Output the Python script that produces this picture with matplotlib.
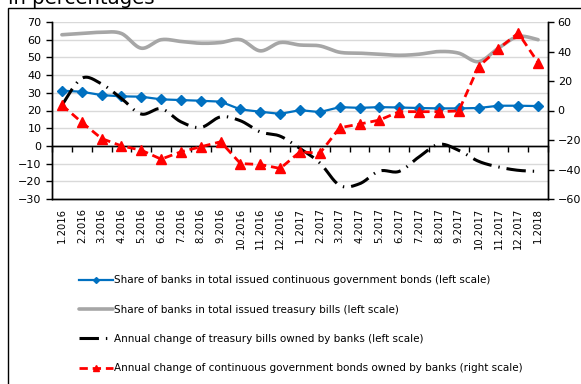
import numpy as np
import matplotlib
matplotlib.use('Agg')
import matplotlib.pyplot as plt
from matplotlib.patches import Rectangle

months = ['1.2016', '2.2016', '3.2016', '4.2016', '5.2016', '6.2016', '7.2016', '8.2016',
          '9.2016', '10.2016', '11.2016', '12.2016', '1.2017', '2.2017', '3.2017', '4.2017',
          '5.2017', '6.2017', '7.2017', '8.2017', '9.2017', '10.2017', '11.2017', '12.2017',
          '1.2018']

# left scale
share_bonds = [31.2, 30.6, 28.7, 28.0, 27.8, 26.3, 25.9, 25.5, 25.0, 20.6, 19.3, 18.1, 20.2,
               19.1, 21.9, 21.5, 21.9, 21.7, 21.4, 21.2, 21.2, 21.4, 22.7, 22.7, 22.5]
share_bills = [62.8, 63.5, 64.2, 63.5, 55.2, 60.0, 59.0, 58.0, 58.4, 60.0, 53.7, 58.4, 57.0,
               56.5, 52.9, 52.4, 51.8, 51.2, 51.8, 53.3, 52.4, 47.6, 55.2, 61.8, 60.0]
change_bills = [23.0, 38.2, 35.0, 26.8, 18.0, 21.0, 13.6, 10.4, 16.4, 14.2, 7.9, 5.5, -1.5,
                -9.6, -22.3, -21.4, -14.2, -14.4, -6.2, 0.9, -2.5, -8.7, -11.9, -13.8, -14.4]
# right scale
change_bonds = [3.7, -8.0, -19.0, -24.0, -26.9, -33.0, -28.0, -24.6, -21.2, -36.0, -36.6, -39.3,
                -28.0, -29.0, -11.7, -9.2, -6.5, -0.8, -0.8, -0.8, -0.3, 29.8, 41.8, 52.5, 32.5]

labels = ['Share of banks in total issued continuous government bonds (left scale)',
          'Share of banks in total issued treasury bills (left scale)',
          'Annual change of treasury bills owned by banks (left scale)',
          'Annual change of continuous government bonds owned by banks (right scale)']


def smooth(x, y, n=16):
    # catmull-rom curve through the points, like excel's smoothed line
    pts = np.column_stack([x, y]).astype(float)
    P = np.vstack([pts[0], pts, pts[-1]])
    out = []
    t = np.linspace(0, 1, n, endpoint=False)[:, None]
    for i in range(1, len(P) - 2):
        p0, p1, p2, p3 = P[i - 1], P[i], P[i + 1], P[i + 2]
        seg = 0.5 * (2 * p1 + (-p0 + p2) * t + (2 * p0 - 5 * p1 + 4 * p2 - p3) * t ** 2
                     + (-p0 + 3 * p1 - 3 * p2 + p3) * t ** 3)
        out.append(seg)
    out.append(pts[-1:])
    s = np.vstack(out)
    return s[:, 0], s[:, 1]


plt.rcParams['font.family'] = ['DejaVu Sans']
plt.rcParams['lines.scale_dashes'] = False

fig = plt.figure(figsize=(5.81, 3.84), dpi=100)
ax = fig.add_axes([52 / 581, 1 - 199 / 384, 496 / 581, 177 / 384])
ax2 = ax.twinx()

x = np.arange(len(months))

ax.set_axisbelow(True)
ax.yaxis.grid(True, color='#d9d9d9', lw=1)
ax.axhline(0, color='black', lw=1, zorder=1.5)

sx, sy = smooth(x, share_bills)
ax.plot(sx, sy, color='#a6a6a6', lw=2.6, solid_capstyle='round', label=labels[1])
ax.plot(x, share_bonds, color='#0070c0', lw=1.6, marker='D', ms=5, label=labels[0])
cx, cy = smooth(x, change_bills)
ax.plot(cx, cy, color='black', lw=2.2, ls=(0, (14, 5, 1, 5)), label=labels[2])
ax2.plot(x, change_bonds, color='#ff0000', lw=2.0, ls=(0, (6, 3.5)), marker='^', ms=7,
         label=labels[3])

ax.set_xlim(-0.5, len(months) - 0.5)
ax.set_ylim(-30, 70)
ax.set_yticks(np.arange(-30, 71, 10))
ax2.set_ylim(-60, 60)
ax2.set_yticks(np.arange(-60, 61, 20))

ax.set_xticks(x)
ax.set_xticklabels(months, rotation=90, fontsize=7.2)
ax.tick_params(axis='x', length=0, pad=6.5)
ax.tick_params(axis='y', labelsize=8, length=4, width=1)
ax2.tick_params(axis='y', labelsize=8, length=4, width=1, pad=3)

for a in (ax, ax2):
    a.spines['top'].set_visible(False)
    for s in ('left', 'right', 'bottom'):
        a.spines[s].set_linewidth(1)
        a.spines[s].set_color('black')

# category ticks on the zero line of the left scale
zero = ax.secondary_xaxis(30 / 100)
zero.set_xticks(np.arange(-0.5, len(months), 1.0))
zero.set_xticklabels([])
zero.tick_params(direction='out', length=4, width=1, color='black')
zero.spines['bottom'].set_linewidth(1)

h1, l1 = ax.get_legend_handles_labels()
h2, l2 = ax2.get_legend_handles_labels()
order = [1, 0, 2]
handles = [h1[i] for i in order] + h2
fig.legend(handles, labels, loc='upper left', bbox_to_anchor=(70 / 581, 1 - 266 / 384),
           frameon=False, fontsize=7.5, handlelength=3.2, handletextpad=0.1,
           labelspacing=1.85, markerscale=0.6)

fig.text(8 / 581, 1 - 4 / 384, 'in percentages', fontsize=14.2, va='baseline', ha='left')
fig.patches.append(Rectangle((8 / 581, -0.1), 1.2, 1.1 - 8 / 384, transform=fig.transFigure,
                             fill=False, lw=1, ec='black'))

fig.savefig('out.png', dpi=100)
